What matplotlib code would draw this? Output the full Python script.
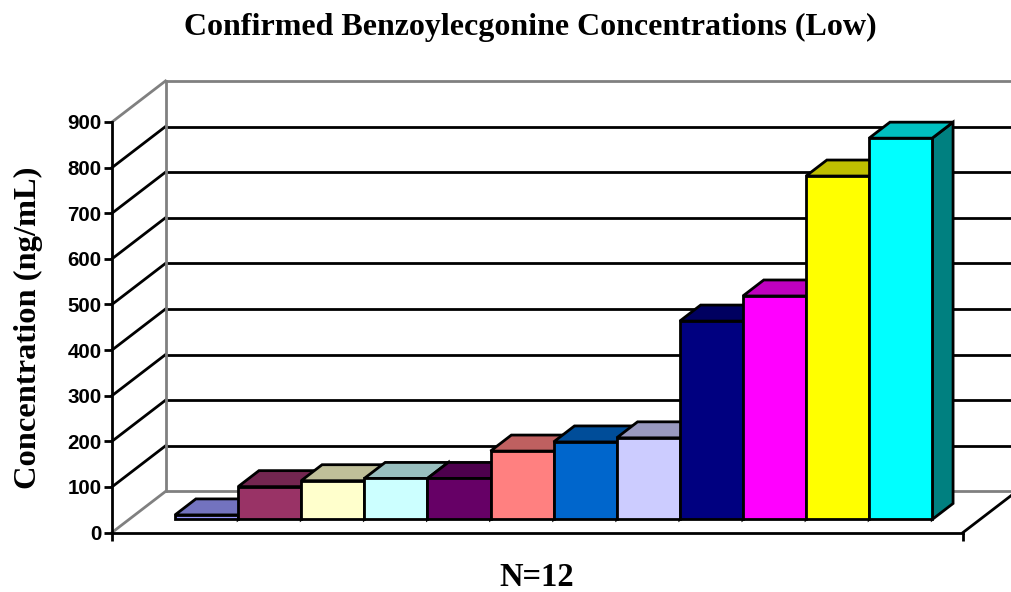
#!/usr/bin/env python3
import matplotlib
matplotlib.use("Agg")
import matplotlib.pyplot as plt
from matplotlib.patches import Polygon

values = [10, 72, 85, 90, 90, 150, 170, 179, 435, 490, 753, 836]
front_colors = ["#9999FF", "#993366", "#FFFFCC", "#CCFFFF", "#660066", "#FF8080",
                "#0066CC", "#CCCCFF", "#000080", "#FF00FF", "#FFFF00", "#00FFFF"]
top_colors = ["#7373BF", "#732650", "#BFBF99", "#99BFBF", "#4D004D", "#BF6060",
              "#004D99", "#9999BF", "#000060", "#BF00BF", "#BFBF00", "#00BFBF"]
side_colors = ["#4D4D80", "#4D1A33", "#808066", "#668080", "#330033", "#804040",
               "#003366", "#666680", "#000040", "#800080", "#808000", "#008080"]
y_ticks = [0, 100, 200, 300, 400, 500, 600, 700, 800, 900]

title = "Confirmed Benzoylecgonine Concentrations (Low)"
y_title = "Concentration (ng/mL)"
x_title = "N=12"

# size of the fake 3d box, in data units
x_end = 13.487
wall_dx = 0.848
wall_dy = 90
gap = 0.73
bar_depth_front = 0.317
bar_depth_back = 0.707
line_w = 2.0


def shift(x, y, depth):
    return x + depth * wall_dx, y + depth * wall_dy


def main():
    fig = plt.figure(figsize=(10.12, 5.92), dpi=100)
    ax = fig.add_axes([112 / 1012, (592 - 532.5) / 592, 851 / 1012, 410.5 / 592])
    ax.set_xlim(0, x_end)
    ax.set_ylim(0, 900)
    ax.patch.set_visible(False)

    for name in ["top", "right"]:
        ax.spines[name].set_visible(False)
    for name in ["left", "bottom"]:
        ax.spines[name].set_linewidth(line_w)
        ax.spines[name].set_zorder(1)

    ax.set_yticks(y_ticks)
    ax.set_yticklabels([str(t) for t in y_ticks], fontfamily="Liberation Sans",
                       fontweight="bold", fontsize=14.8)
    ax.set_xticks([0, x_end])
    ax.set_xticklabels([])
    ax.tick_params(width=line_w, length=5.5, pad=2)

    # walls and grid
    for t in y_ticks:
        color = "#808080" if t in (0, 900) else "black"
        bx, by = shift(0, t, 1)
        ax.plot([0, bx], [t, by], color=color, lw=line_w, clip_on=False, zorder=0)
        ax.plot([bx, x_end + wall_dx], [by, by], color=color, lw=line_w, clip_on=False, zorder=0)
    bx, by0 = shift(0, 0, 1)
    ax.plot([bx, bx], [by0, 900 + wall_dy], color="#808080", lw=line_w, clip_on=False, zorder=0)
    ex, ey = shift(x_end, 0, 1)
    ax.plot([x_end, ex], [0, ey], color="black", lw=line_w, clip_on=False, zorder=1)

    # bars, left to right so that each one hides the side of the last
    for i, v in enumerate(values):
        x0, y0 = shift(gap + i, 0, bar_depth_front)
        x1 = x0 + 1
        y1 = y0 + v
        x0b, y0b = shift(gap + i, 0, bar_depth_back)
        x1b = x0b + 1
        y1b = y0b + v
        style = dict(edgecolor="black", linewidth=line_w, joinstyle="miter", clip_on=False, zorder=3)
        ax.add_patch(Polygon([(x1, y0), (x1b, y0b), (x1b, y1b), (x1, y1)], facecolor=side_colors[i], **style))
        ax.add_patch(Polygon([(x0, y1), (x0b, y1b), (x1b, y1b), (x1, y1)], facecolor=top_colors[i], **style))
        ax.add_patch(Polygon([(x0, y0), (x1, y0), (x1, y1), (x0, y1)], facecolor=front_colors[i], **style))

    fig.text(530 / 1012, 1 - 27 / 592, title, family="Liberation Serif", fontweight="bold",
             fontsize=23, ha="center", va="center")
    fig.text(537 / 1012, 1 - 577 / 592, x_title, family="Liberation Serif", fontweight="bold",
             fontsize=23.5, ha="center", va="center")
    fig.text(28 / 1012, 1 - 328 / 592, y_title, family="Liberation Serif", fontweight="bold",
             fontsize=23.4, ha="center", va="center", rotation=90)

    fig.savefig("out.png", dpi=100)


if __name__ == "__main__":
    main()
